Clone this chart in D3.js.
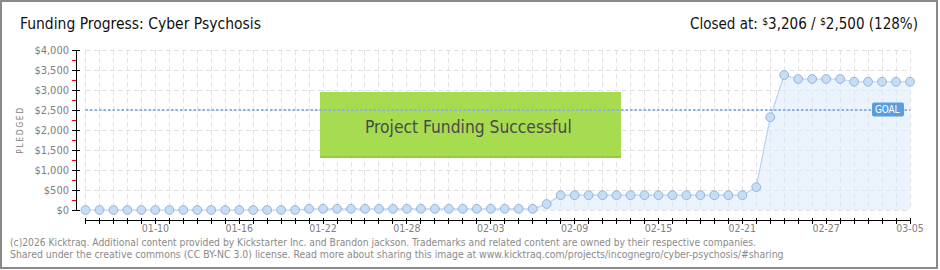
<!DOCTYPE html>
<html>
<head>
<meta charset="utf-8">
<script src="https://cdn.jsdelivr.net/npm/d3@7"></script>
<style>
  body { margin: 0; background: #fff; }
  svg { display: block; }
  .crisp line { shape-rendering: crispEdges; }
</style>
</head>
<body>
<svg id="chart" width="940" height="270"></svg>
<script>
// daily pledged totals, first day is 2026-01-05
const startDate = new Date(Date.UTC(2026, 0, 5));
const pledged = [
  0, 0, 0, 0, 0, 0, 0, 0, 0, 0, 0, 0, 0, 0, 0, 0,
  30, 30, 30, 30, 30, 30, 30, 30, 30, 30, 30, 30, 30, 30, 30, 30, 30,
  150,
  370, 370, 370, 370, 370, 370, 370, 370, 370, 370, 370, 370, 370, 370,
  570, 2320, 3375,
  3275, 3275, 3275, 3275,
  3206, 3206, 3206, 3206, 3206
];
const goal = 2500;
const yTicks = [0, 500, 1000, 1500, 2000, 2500, 3000, 3500, 4000];
const xTickLabels = ["01-10", "01-16", "01-22", "01-28", "02-03", "02-09", "02-15", "02-21", "02-27", "03-05"];

const dates = pledged.map((v, i) => d3.utcDay.offset(startDate, i));
const data = pledged.map((v, i) => ({date: dates[i], value: v}));

const svg = d3.select("#chart");
const x = d3.scaleUtc()
            .domain([dates[0], dates[dates.length - 1]])
            .range([85.5, 910]);
const y = d3.scaleLinear().domain([0, 4000]).range([210, 50]);

const grey = "#808080";
const smallFont = "'DejaVu Sans Condensed', 'DejaVu Sans', sans-serif";
const headFont = "'DejaVu Sans Condensed', 'DejaVu Sans', sans-serif";

// squeeze a text element horizontally to a target width
function fitWidth(sel, w, anchorX) {
  let bw = sel.node().getBBox().width;
  let s = w / bw;
  sel.attr("transform", `translate(${anchorX},0) scale(${s},1) translate(${-anchorX},0)`);
}

// frame
svg.append("rect")
   .attr("x", 1).attr("y", 1)
   .attr("width", 936).attr("height", 267)
   .attr("fill", "#fff")
   .attr("stroke", "#8a8a8a")
   .attr("stroke-width", 2);

// grid
const grid = svg.append("g").attr("class", "grid crisp");
grid.selectAll("line.v")
    .data(dates)
    .enter().append("line")
      .attr("x1", d => x(d)).attr("x2", d => x(d))
      .attr("y1", y(4000)).attr("y2", y(0))
      .attr("stroke", "#e2e2e2")
      .attr("stroke-dasharray", "5,3");
grid.selectAll("line.h")
    .data(yTicks)
    .enter().append("line")
      .attr("x1", 85.5).attr("x2", 910)
      .attr("y1", d => y(d)).attr("y2", d => y(d))
      .attr("stroke", "#e2e2e2")
      .attr("stroke-dasharray", "5,3");

// area + line
const area = d3.area()
               .x(d => x(d.date))
               .y0(y(0))
               .y1(d => y(d.value));
svg.append("path")
   .datum(data)
   .attr("d", area)
   .attr("fill", "#dbe9f9")
   .attr("fill-opacity", 0.55);

// success banner
svg.append("rect")
   .attr("x", 320).attr("y", 92)
   .attr("width", 301).attr("height", 66)
   .attr("fill", "#a7dc50");
svg.append("rect")
   .attr("x", 320).attr("y", 156)
   .attr("width", 301).attr("height", 2)
   .attr("fill", "#97cb45");

// goal line
svg.append("line")
   .attr("x1", 85.5).attr("x2", 910)
   .attr("y1", y(goal)).attr("y2", y(goal))
   .attr("stroke", "#8cb2df")
   .attr("stroke-width", 2.2)
   .attr("stroke-dasharray", "2.5,2");

let bannerText = svg.append("text")
   .attr("x", 365).attr("y", 133)
   .attr("font-family", headFont)
   .attr("font-size", 17)
   .attr("fill", "#4a4a4a")
   .text("Project Funding Successful");
fitWidth(bannerText, 207, 365);

const line = d3.line()
               .x(d => x(d.date))
               .y(d => y(d.value));
svg.append("path")
   .datum(data)
   .attr("d", line)
   .attr("fill", "none")
   .attr("stroke", "#b3d3f3")
   .attr("stroke-width", 1.2);

svg.append("g")
   .selectAll("circle")
   .data(data)
   .enter().append("circle")
     .attr("cx", d => x(d.date))
     .attr("cy", d => y(d.value))
     .attr("r", 4.4)
     .attr("fill", "#c5ddf7")
     .attr("stroke", "#98b4d6")
     .attr("stroke-width", 1);

// goal tag
svg.append("rect")
   .attr("x", 872).attr("y", 102.5)
   .attr("width", 32).attr("height", 14)
   .attr("rx", 2)
   .attr("fill", "#5c9ddf");
let goalText = svg.append("text")
   .attr("x", 875).attr("y", 113.5)
   .attr("font-family", smallFont)
   .attr("font-size", 11)
   .attr("fill", "#fff")
   .text("GOAL");
fitWidth(goalText, 25, 875);

// y axis
const yAxis = svg.append("g").attr("class", "crisp").attr("transform", "translate(76,0)");
yAxis.append("line")
     .attr("y1", y(4000)).attr("y2", y(0))
     .attr("stroke", "#000");
yAxis.selectAll("line.minor")
     .data(yTicks.slice(0, -1))
     .enter().append("line")
       .attr("x1", -4).attr("x2", 0)
       .attr("y1", d => y(d + 250)).attr("y2", d => y(d + 250))
       .attr("stroke", "#ff0000");
yAxis.selectAll("line.major")
     .data(yTicks)
     .enter().append("line")
       .attr("x1", -4).attr("x2", 4)
       .attr("y1", d => y(d)).attr("y2", d => y(d))
       .attr("stroke", "#000");
yAxis.selectAll("text")
     .data(yTicks)
     .enter().append("text")
       .attr("x", -7)
       .attr("y", d => y(d))
       .attr("dy", "0.35em")
       .attr("text-anchor", "end")
       .attr("font-family", smallFont)
       .attr("font-size", 11)
       .attr("fill", grey)
       .text(d => "$" + d3.format(",")(d));

svg.append("text")
   .attr("transform", "translate(23,130) rotate(-90)")
   .attr("text-anchor", "middle")
   .attr("font-family", smallFont)
   .attr("font-size", 8.5)
   .attr("letter-spacing", 1.6)
   .attr("fill", grey)
   .text("PLEDGED");

// x axis
const xAxis = svg.append("g").attr("class", "crisp").attr("transform", "translate(0,220)");
xAxis.append("line")
     .attr("x1", 85.5).attr("x2", 910)
     .attr("stroke", "#000");
xAxis.selectAll("line.tick")
     .data(dates)
     .enter().append("line")
       .attr("x1", d => x(d)).attr("x2", d => x(d))
       .attr("y1", -2).attr("y2", 4)
       .attr("stroke", "#000");
const parseTick = s => new Date(Date.UTC(2026, +s.slice(0, 2) - 1, +s.slice(3)));
xAxis.selectAll("text")
     .data(xTickLabels)
     .enter().append("text")
       .attr("x", d => x(parseTick(d)))
       .attr("y", 12)
       .attr("text-anchor", "middle")
       .attr("font-family", smallFont)
       .attr("font-size", 10.5)
       .attr("fill", grey)
       .text(d => d);

// header
let title = svg.append("text")
   .attr("x", 20).attr("y", 29)
   .attr("font-family", headFont)
   .attr("font-size", 16)
   .attr("fill", "#111")
   .text("Funding Progress: Cyber Psychosis");
fitWidth(title, 241, 20);

let closed = svg.append("text")
   .attr("x", 918).attr("y", 29)
   .attr("text-anchor", "end")
   .attr("font-family", headFont)
   .attr("font-size", 16)
   .attr("fill", "#111");
closed.append("tspan").text("Closed at:  ");
closed.append("tspan").attr("font-size", 11).attr("dy", -4).text("$");
closed.append("tspan").attr("dy", 4).text("3,206 /  ");
closed.append("tspan").attr("font-size", 11).attr("dy", -4).text("$");
closed.append("tspan").attr("dy", 4).text("2,500 (128%)");
fitWidth(closed, 228, 918);

// footer
let foot1 = svg.append("text")
   .attr("x", 10).attr("y", 246)
   .attr("font-family", smallFont)
   .attr("font-size", 10.5)
   .attr("fill", "#8a8a8a")
   .text("(c)2026 Kicktraq. Additional content provided by Kickstarter Inc. and Brandon jackson. Trademarks and related content are owned by their respective companies.");
fitWidth(foot1, 747, 10);
let foot2 = svg.append("text")
   .attr("x", 10).attr("y", 258)
   .attr("font-family", smallFont)
   .attr("font-size", 10.5)
   .attr("fill", "#8a8a8a")
   .text("Shared under the creative commons (CC BY-NC 3.0) license. Read more about sharing this image at www.kicktraq.com/projects/incognegro/cyber-psychosis/#sharing");
fitWidth(foot2, 774, 10);
</script>
</body>
</html>
